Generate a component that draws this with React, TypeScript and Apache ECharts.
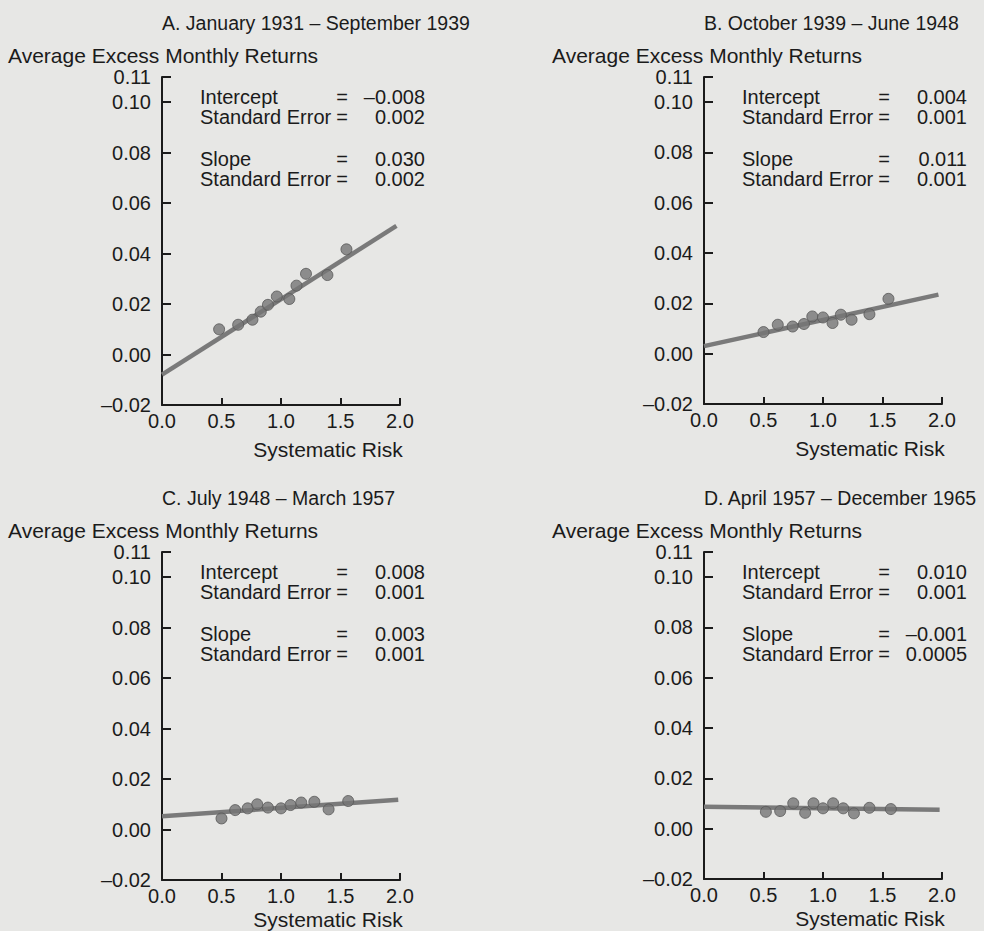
import React, { useEffect, useRef } from "react";
import * as echarts from "echarts";

// ---- data ----
const xTicks = [0, 0.5, 1.0, 1.5, 2.0];
const yTicks = [-0.02, 0, 0.02, 0.04, 0.06, 0.08, 0.1, 0.11];

const panelTitles = [
  "A. January 1931 – September 1939",
  "B. October 1939 – June 1948",
  "C. July 1948 – March 1957",
  "D. April 1957 – December 1965",
];
const yAxisTitle = "Average Excess Monthly Returns";
const xAxisTitle = "Systematic Risk";

const aRisk = [0.48, 0.64, 0.76, 0.83, 0.89, 0.965, 1.07, 1.13, 1.21, 1.39, 1.55];
const aReturn = [0.010, 0.0118, 0.0138, 0.017, 0.0197, 0.023, 0.022, 0.0273, 0.032, 0.0315, 0.0417];
const aLine = [[0, -0.008], [1.97, 0.051]];

const bRisk = [0.5, 0.62, 0.745, 0.84, 0.91, 1.0, 1.08, 1.15, 1.24, 1.39, 1.55];
const bReturn = [0.0086, 0.0115, 0.0108, 0.0118, 0.0148, 0.0144, 0.0122, 0.0155, 0.0135, 0.0157, 0.0218];
const bLine = [[0, 0.003], [1.97, 0.0235]];

const cRisk = [0.5, 0.615, 0.72, 0.8, 0.89, 1.0, 1.08, 1.17, 1.28, 1.4, 1.565];
const cReturn = [0.0044, 0.0077, 0.0084, 0.010, 0.0087, 0.0084, 0.0097, 0.0107, 0.011, 0.008, 0.0113];
const cLine = [[0, 0.0053], [1.985, 0.0118]];

const dRisk = [0.52, 0.64, 0.75, 0.85, 0.92, 1.0, 1.085, 1.17, 1.26, 1.39, 1.57];
const dReturn = [0.0067, 0.007, 0.0101, 0.0063, 0.0101, 0.0081, 0.0101, 0.0081, 0.0061, 0.0083, 0.0078];
const dLine = [[0, 0.0087], [1.98, 0.0075]];

const statLabels = ["Intercept", "Standard Error", "Slope", "Standard Error"];
const aStats = ["–0.008", "0.002", "0.030", "0.002"];
const bStats = ["0.004", "0.001", "0.011", "0.001"];
const cStats = ["0.008", "0.001", "0.003", "0.001"];
const dStats = ["0.010", "0.001", "–0.001", "0.0005"];

// ---- layout ----
const FONT = "Liberation Sans, Arial, Helvetica, sans-serif";
const INK = "#1b1b1b";
const grids = [
  { left: 162, top: 77, width: 238, height: 328 },
  { left: 704, top: 77, width: 238, height: 327 },
  { left: 162, top: 552, width: 238, height: 328 },
  { left: 704, top: 552, width: 238, height: 327 },
];
const yTitleX = [8, 552, 8, 552];
const xTitleDy = [44, 44, 39, 39];

export default function App() {
  const ref = useRef<HTMLDivElement>(null);

  useEffect(() => {
    if (!ref.current) return;
    const chart = echarts.init(ref.current, undefined, { renderer: "svg" });

    const risks = [aRisk, bRisk, cRisk, dRisk];
    const rets = [aReturn, bReturn, cReturn, dReturn];
    const lines = [aLine, bLine, cLine, dLine];
    const stats = [aStats, bStats, cStats, dStats];

    const xAxes = grids.map((_, i) => ({
      type: "value",
      gridIndex: i,
      min: xTicks[0],
      max: xTicks[xTicks.length - 1],
      interval: 0.5,
      axisLine: { show: true, onZero: false, lineStyle: { color: INK, width: 2 } },
      axisTick: { show: true, inside: true, length: 7, lineStyle: { color: INK, width: 2 } },
      axisLabel: {
        show: true,
        margin: 6,
        color: INK,
        fontFamily: FONT,
        fontSize: 20,
        formatter: (v: number) => v.toFixed(1),
      },
      splitLine: { show: false },
    }));

    const yAxes = grids.map((_, i) => ({
      type: "value",
      gridIndex: i,
      min: -0.02,
      max: 0.11,
      axisLine: { show: true, lineStyle: { color: INK, width: 2 } },
      axisTick: {
        show: true,
        inside: true,
        length: 9,
        customValues: yTicks,
        lineStyle: { color: INK, width: 2 },
      },
      axisLabel: {
        show: true,
        margin: 11,
        color: INK,
        fontFamily: FONT,
        fontSize: 20,
        customValues: yTicks,
        formatter: (v: number) => (v < -1e-9 ? "–" : "") + Math.abs(v).toFixed(2),
      },
      splitLine: { show: false },
    }));

    const series: any[] = [];
    grids.forEach((_, i) => {
      series.push({
        type: "line",
        xAxisIndex: i,
        yAxisIndex: i,
        data: lines[i],
        symbol: "none",
        lineStyle: { color: "#7a7a7a", width: 4.5 },
        z: 2,
      });
      series.push({
        type: "scatter",
        xAxisIndex: i,
        yAxisIndex: i,
        data: risks[i].map((x, k) => [x, rets[i][k]]),
        symbolSize: 11,
        itemStyle: { color: "#767676", borderColor: "#575757", borderWidth: 1 },
        z: 3,
      });
    });

    const graphic: any[] = [];
    const txt = (text: string, x: number, y: number, align = "left", size = 21) => ({
      type: "text",
      x,
      y,
      style: {
        text,
        fill: INK,
        font: `${size}px ${FONT}`,
        textAlign: align,
        textVerticalAlign: "middle",
      },
    });
    grids.forEach((g, i) => {
      graphic.push(txt(panelTitles[i], g.left, g.top - 54, "left", 19.5));
      graphic.push(txt(yAxisTitle, yTitleX[i], g.top - 22));
      graphic.push(txt(xAxisTitle, g.left + 166, g.top + g.height + xTitleDy[i], "center"));
      const rowsY = [20, 40, 82, 102];
      statLabels.forEach((lab, r) => {
        const y = g.top + rowsY[r];
        graphic.push(txt(lab, g.left + 38, y, "left", 20));
        graphic.push(txt("=", g.left + 180, y, "center", 20));
        graphic.push(txt(stats[i][r], g.left + 263, y, "right", 20));
      });
    });

    chart.setOption({
      animation: false,
      backgroundColor: "#e7e7e5",
      grid: grids.map((g) => ({ ...g, containLabel: false })),
      xAxis: xAxes,
      yAxis: yAxes,
      series,
      graphic,
    });

    return () => chart.dispose();
  }, []);

  return (
    <div
      ref={ref}
      style={{ position: "fixed", left: 0, top: 0, width: 984, height: 931 }}
    />
  );
}
